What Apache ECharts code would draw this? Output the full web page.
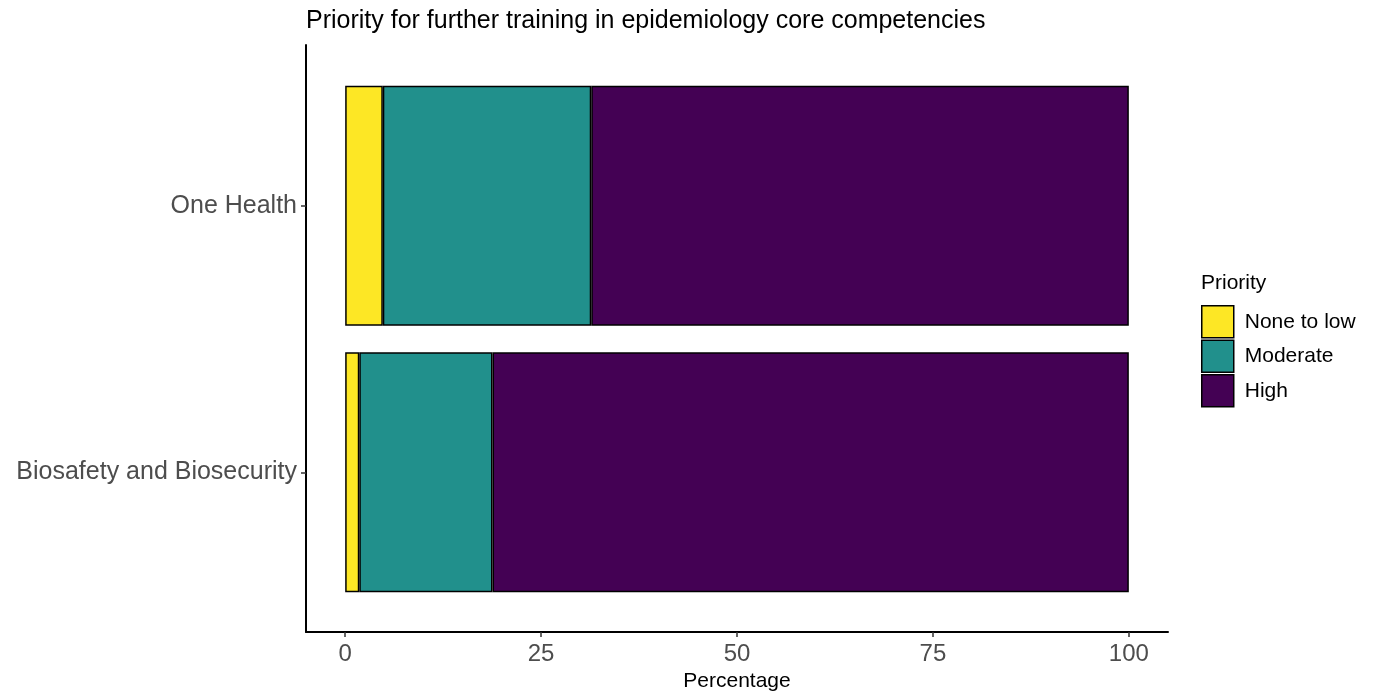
<!DOCTYPE html>
<html>
<head>
<meta charset="utf-8">
<script src="https://cdn.jsdelivr.net/npm/echarts@6/dist/echarts.min.js"></script>
<style>
html,body{margin:0;padding:0;background:#fff;}
#chart{width:1376px;height:692px;}
</style>
</head>
<body>
<div id="chart"></div>
<script>
const categories = ['Biosafety and Biosecurity', 'One Health'];
const noneToLow = [1.8, 4.8];
const moderate = [17.0, 26.6];
const high = [81.2, 68.6];
const seriesNames = ['None to low', 'Moderate', 'High'];
const xTicks = [0, 25, 50, 75, 100];

const FONT = 'Liberation Sans, Arial, Helvetica, sans-serif';
const colors = ['#FDE725', '#21908C', '#440154'];

const chart = echarts.init(document.getElementById('chart'), null, {renderer: 'canvas'});
const barStyle = (c) => ({color: c, borderColor: '#000', borderWidth: 1.5});

const option = {
  animation: false,
  backgroundColor: '#fff',
  textStyle: {fontFamily: FONT},
  title: [
    {text: 'Priority for further training in epidemiology core competencies', left: 306, top: 9, padding: 0,
     textStyle: {fontFamily: FONT, fontSize: 25, fontWeight: 'normal', color: '#000'}},
    {text: 'Priority', left: 1201, top: 273, padding: 0,
     textStyle: {fontFamily: FONT, fontSize: 21, fontWeight: 'normal', color: '#000'}}
  ],
  legend: {
    data: seriesNames,
    orient: 'vertical',
    left: 1201, top: 305, padding: 0,
    itemWidth: 32, itemHeight: 32, itemGap: 1,
    icon: 'rect',
    itemStyle: {borderColor: '#000', borderWidth: 1.5},
    textStyle: {fontFamily: FONT, fontSize: 21, color: '#000', padding: [0, 0, 0, 6]}
  },
  grid: [
    {left: 306, right: 208, top: 72.5, height: 533, containLabel: false, outerBoundsMode: 'none'},
    {left: 306, right: 208, top: 45, height: 587, containLabel: false, outerBoundsMode: 'none'}
  ],
  xAxis: [
    {gridIndex: 0, type: 'value', min: -5, max: 105, show: false},
    {gridIndex: 1, type: 'value', min: -5, max: 105,
     name: 'Percentage', nameLocation: 'middle', nameGap: 38,
     nameTextStyle: {fontFamily: FONT, fontSize: 21, color: '#000'},
     axisLine: {show: true, onZero: false, lineStyle: {color: '#000', width: 2}},
     axisTick: {show: true, length: 5, customValues: xTicks, lineStyle: {color: '#333', width: 1.5}},
     axisLabel: {show: true, customValues: xTicks, margin: 10, fontSize: 24, color: '#4d4d4d', fontFamily: FONT},
     splitLine: {show: false}}
  ],
  yAxis: [
    {gridIndex: 0, type: 'category', data: categories,
     axisLine: {show: false, onZero: false},
     axisTick: {show: true, alignWithLabel: true, length: 5, lineStyle: {color: '#333', width: 1.5}},
     axisLabel: {fontSize: 25, color: '#4d4d4d', fontFamily: FONT, margin: 9}},
    {gridIndex: 1, type: 'value', min: 0, max: 1,
     axisLine: {show: true, onZero: false, lineStyle: {color: '#000', width: 2}},
     axisTick: {show: false}, axisLabel: {show: false}, splitLine: {show: false}}
  ],
  series: [
    {name: seriesNames[0], type: 'bar', stack: 'p', xAxisIndex: 0, yAxisIndex: 0, barWidth: 240,
     data: noneToLow, itemStyle: barStyle(colors[0])},
    {name: seriesNames[1], type: 'bar', stack: 'p', xAxisIndex: 0, yAxisIndex: 0, barWidth: 240,
     data: moderate, itemStyle: barStyle(colors[1])},
    {name: seriesNames[2], type: 'bar', stack: 'p', xAxisIndex: 0, yAxisIndex: 0, barWidth: 240,
     data: high, itemStyle: barStyle(colors[2])}
  ]
};
chart.setOption(option);
</script>
</body>
</html>
